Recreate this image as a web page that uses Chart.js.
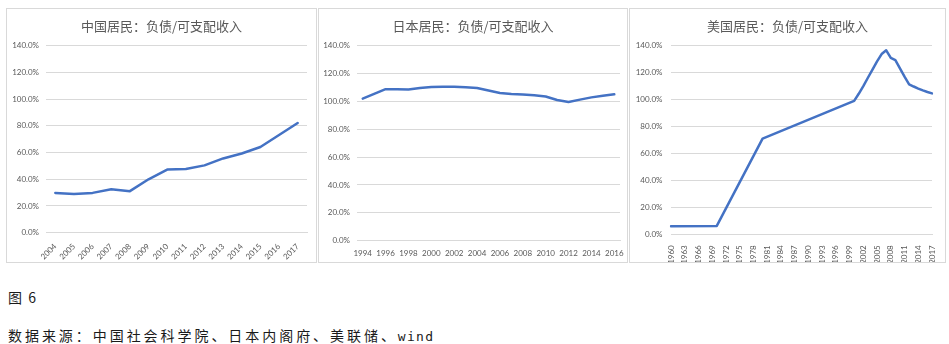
<!DOCTYPE html>
<html><head><meta charset="utf-8">
<script src="https://cdn.jsdelivr.net/npm/chart.js@4.4.1/dist/chart.umd.min.js"></script>
<style>
html,body{margin:0;padding:0;background:#fff;}
body{width:949px;height:344px;position:relative;overflow:hidden;}
.panel{position:absolute;top:8px;height:253px;border:1px solid #d9d9d9;background:#fff;}
.panel canvas{display:block;position:absolute;left:0;top:0;}
.ttl{position:absolute;left:0;right:0;top:8px;line-height:17px;text-align:center;font-family:"Noto Sans CJK SC",sans-serif;font-size:13px;color:#595959;white-space:nowrap;}
#p1{left:6px;width:309px;}
#p2{left:318px;width:308px;}
#p3{left:629px;width:315px;}
.note{position:absolute;left:8px;font-family:"Noto Sans CJK SC",sans-serif;font-size:14px;line-height:16px;color:#1a1a1a;white-space:nowrap;}
.mono{font-family:"DejaVu Sans Mono",monospace;font-size:13px;letter-spacing:1.3px;}
</style></head>
<body>
<div class="panel" id="p1"><canvas id="c1" width="309" height="253"></canvas><div class="ttl">中国居民：负债/可支配收入</div></div>
<div class="panel" id="p2"><canvas id="c2" width="308" height="253"></canvas><div class="ttl">日本居民：负债/可支配收入</div></div>
<div class="panel" id="p3"><canvas id="c3" width="315" height="253"></canvas><div class="ttl">美国居民：负债/可支配收入</div></div>
<div class="note" style="top:289px;letter-spacing:1.5px;">图 6</div>
<div class="note" style="top:327px;letter-spacing:2.95px;">数据来源：中国社会科学院、日本内阁府、美联储、<span class="mono">wind</span></div>
<script>
// ---- data (percent of disposable income) ----
const chinaYears = ['2004','2005','2006','2007','2008','2009','2010','2011','2012','2013','2014','2015','2016','2017'];
const chinaDebtRatio = [29.8, 29.0, 29.8, 32.6, 31.1, 40.0, 47.3, 47.7, 50.4, 55.6, 59.3, 64.2, 73.1, 82.1];

const japanYears = ['1994','1995','1996','1997','1998','1999','2000','2001','2002','2003','2004','2005','2006','2007','2008','2009','2010','2011','2012','2013','2014','2015','2016'];
const japanDebtRatio = [102.0, 105.4, 108.8, 108.7, 108.6, 109.6, 110.4, 110.6, 110.5, 110.1, 109.6, 107.8, 106.1, 105.4, 105.0, 104.4, 103.5, 101.0, 99.6, 101.3, 102.9, 104.1, 105.1];

const usYears = ['1960','1961','1962','1963','1964','1965','1966','1967','1968','1969',
                 '1970','1971','1972','1973','1974','1975','1976','1977','1978','1979',
                 '1980','1981','1982','1983','1984','1985','1986','1987','1988','1989',
                 '1990','1991','1992','1993','1994','1995','1996','1997','1998','1999',
                 '2000','2001','2002','2003','2004','2005','2006','2007','2008','2009',
                 '2010','2011','2012','2013','2014','2015','2016','2017'];
const usDebtRatio = [6.0, null, null, null, null, null, null, null, null, null,
                     6.2, null, null, null, null, null, null, null, null, null,
                     71.0, null, null, null, null, null, null, null, null, null,
                     null, null, null, null, null, null, null, null, null, null,
                     99.0, 104.3, 110.0, 116.2, 122.3, 128.3, 133.8, 136.6, 131.0, 129.3,
                     123.2, 117.0, 111.3, 109.7, 108.2, 106.8, 105.6, 104.6];

const yMin = 0, yMax = 140, yStep = 20;

// ---- styling ----
const LINE = '#4472c4';
const GRID = '#d9d9d9';
const TXT = '#595959';
const TICK_FONT = {family: 'Lato, "Liberation Sans", sans-serif', size: 8};

function makeChart(id, labels, values, o) {
  return new Chart(document.getElementById(id), {
    type: 'line',
    data: {labels: labels, datasets: [{
      data: values, borderColor: LINE, borderWidth: 2.5, pointRadius: 0,
      tension: 0, spanGaps: true, fill: false,
      borderJoinStyle: 'round', borderCapStyle: 'round'
    }]},
    options: {
      responsive: false, animation: false, events: [],
      layout: {padding: {top: 36.7, right: o.padRight, left: 0, bottom: 0}},
      plugins: {legend: {display: false}, tooltip: {enabled: false}, title: {display: false}},
      scales: {
        x: {
          offset: o.offset,
          grid: {display: false},
          border: {display: true, color: GRID, width: 1},
          ticks: {
            color: TXT, font: TICK_FONT, autoSkip: false,
            minRotation: o.rot, maxRotation: o.rot, padding: o.xPad,
            callback: function(v, i) { return (i % o.every === 0) ? labels[i] : ''; }
          },
          afterFit: function(s) { s.height = o.xHeight; }
        },
        y: {
          min: yMin, max: yMax,
          grid: {color: GRID, lineWidth: 1, drawTicks: false},
          border: {display: false},
          ticks: {
            stepSize: yStep, color: TXT, font: TICK_FONT, padding: o.yPad,
            callback: function(v) { return v.toFixed(1) + '%'; }
          },
          afterFit: function(s) { s.width = o.yWidth; }
        }
      }
    }
  });
}

makeChart('c1', chinaYears, chinaDebtRatio, {offset: true, rot: 45, every: 1, xPad: 1, xHeight: 29.3, yWidth: 39, yPad: 7, padRight: 9});
makeChart('c2', japanYears, japanDebtRatio, {offset: true, rot: 0, every: 2, xPad: 0, xHeight: 21.3, yWidth: 38, yPad: 7, padRight: 7});
makeChart('c3', usYears, usDebtRatio, {offset: false, rot: 90, every: 3, xPad: 3, xHeight: 27.7, yWidth: 41, yPad: 8.5, padRight: 13});
</script>
</body></html>
